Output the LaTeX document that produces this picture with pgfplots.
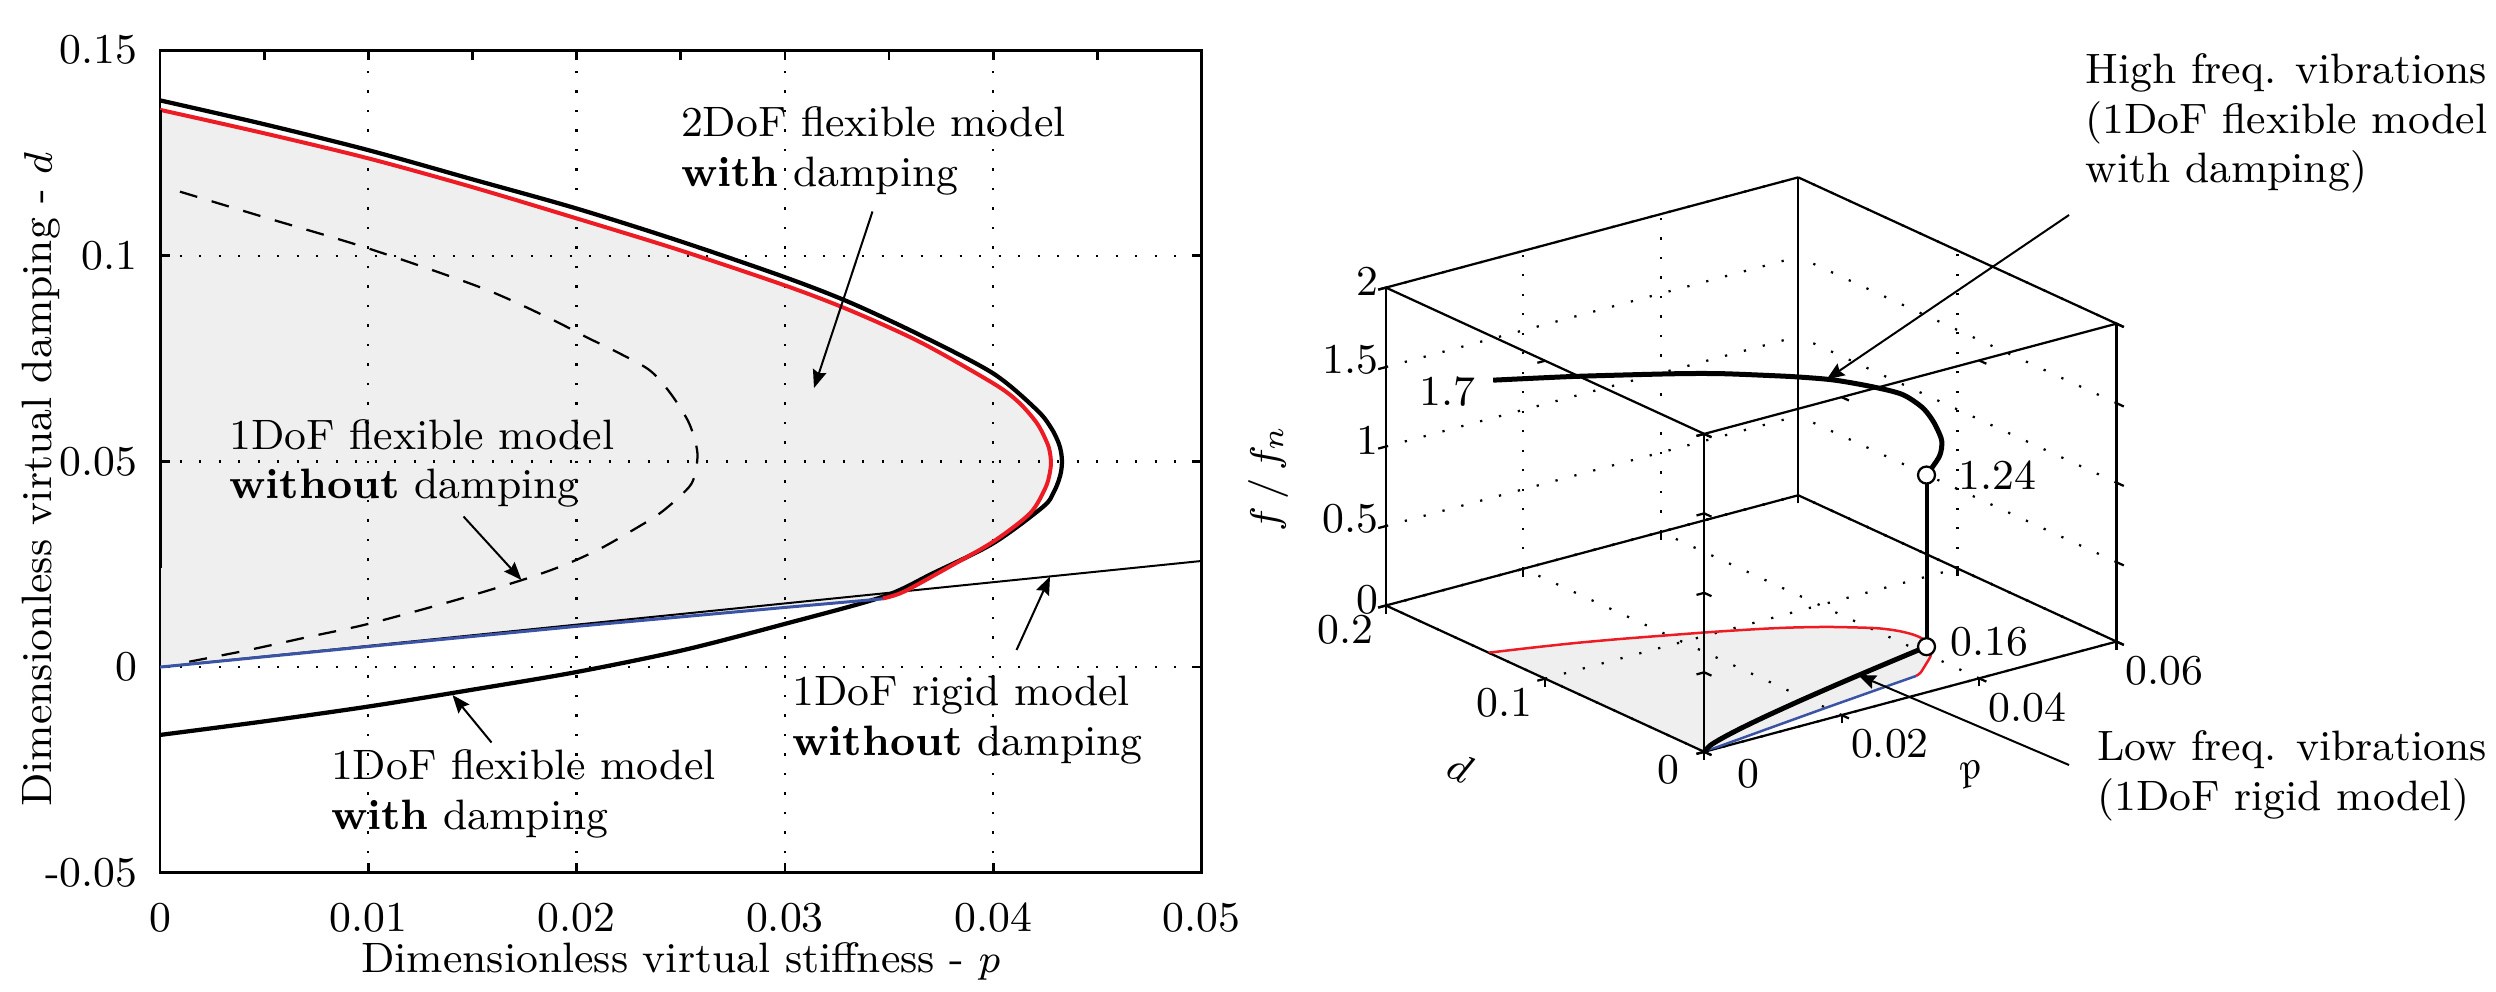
\documentclass[border=0pt]{standalone}
\usepackage{pgfplots}
\pgfplotsset{compat=1.18}
\usepackage{pgfplotstable}
\usetikzlibrary{arrows.meta}

\definecolor{redline}{RGB}{237,28,36}
\definecolor{blueline}{RGB}{58,83,164}
\newcommand\fs{\fontsize{8.5}{9.9}\selectfont}

% red: 2DoF flexible model with damping (stability boundary)
\pgfplotstableread{
p d f
0 0.1355 0
0.005 0.1298 0
0.01 0.1237 0
0.015 0.1167 0
0.02 0.1091 0
0.025 0.1013 0
0.03 0.0928 0
0.0331 0.0868 0
0.0365 0.0790 0
0.04 0.0690 0
0.0412 0.0645 0
0.0421 0.0593 0
0.04259 0.0545 0
0.04273 0.0520 0
0.04277 0.0495 0
0.04271 0.0470 0
0.0425 0.0435 0
0.04177 0.0374 0
0.0400 0.0305 0
0.0379 0.0244 0
0.0357 0.0183 0
0.0347 0.0167 0
}\redtab

% blue: lower limit (rigid model)
\pgfplotstableread{
p d f
0 0 0
0.01 0.0050 0
0.02 0.0099 0
0.03 0.0145 0
0.0347 0.0166 0
}\bluetab

% stable region
\pgfplotstableread{
p d f
0 0 0
0 0.1355 0
0.005 0.1298 0
0.01 0.1237 0
0.015 0.1167 0
0.02 0.1091 0
0.025 0.1013 0
0.03 0.0928 0
0.0331 0.0868 0
0.0365 0.0790 0
0.04 0.0690 0
0.0412 0.0645 0
0.0421 0.0593 0
0.04259 0.0545 0
0.04273 0.0520 0
0.04277 0.0495 0
0.04271 0.0470 0
0.0425 0.0435 0
0.04177 0.0374 0
0.0400 0.0305 0
0.0379 0.0244 0
0.0357 0.0183 0
0.0347 0.0167 0
0.03 0.0145 0
0.02 0.0099 0
0.01 0.0050 0
}\shadetab

% 1DoF flexible model with damping
\pgfplotstableread{
p d
0 0.1378
0.005 0.1320
0.01 0.1257
0.015 0.1186
0.02 0.1115
0.025 0.1035
0.03 0.0948
0.0331 0.0887
0.0365 0.0807
0.04 0.0714
0.0421 0.0625
0.0428 0.0580
0.04314 0.0545
0.04326 0.0522
0.0433 0.0499
0.04326 0.0476
0.04314 0.0453
0.0429 0.0425
0.0424 0.0390
0.040 0.0301
0.0371 0.0228
0.0347 0.0171
0.030 0.0105
0.0251 0.0041
0.0200 -0.0012
0.015 -0.0055
0.01 -0.0096
0.005 -0.0132
0 -0.0165
}\flexdamp

% 1DoF flexible model without damping
\pgfplotstableread{
p d
0.00096 0.1156
0.005 0.1094
0.01 0.1018
0.0155 0.0921
0.0187 0.0848
0.0206 0.0799
0.0219 0.0767
0.0235 0.0722
0.0245 0.0666
0.0254 0.0593
0.0258 0.0520
0.0256 0.0455
0.0251 0.0422
0.0240 0.0374
0.0227 0.0333
0.0211 0.0287
0.0194 0.0248
0.0174 0.0212
0.0140 0.0160
0.0100 0.0105
0.0070 0.0072
0.0043 0.0042
0.0014 0.0013
}\flexnodamp

% frequency along the boundary
\pgfplotstableread{
p d f
0 0 0
0.001 0.00048 0.0266
0.003 0.00144 0.046
0.006 0.00288 0.065
0.010 0.0048 0.084
0.015 0.0072 0.103
0.020 0.0096 0.119
0.025 0.0120 0.133
0.030 0.0144 0.1455
0.0364 0.0175 0.160
}\lowfreq

\pgfplotstableread{
p d f
0.0364 0.0175 1.24
0.0412 0.0301 1.245
0.0436 0.0390 1.27
0.0442 0.0447 1.32
0.0445 0.0499 1.36
0.0442 0.0544 1.41
0.0433 0.0625 1.46
0.0412 0.0714 1.49
0.0377 0.0810 1.53
0.0343 0.0895 1.55
0.0312 0.0950 1.57
0.0262 0.1035 1.60
0.0212 0.1115 1.62
0.0112 0.1257 1.655
0.0062 0.1320 1.672
0.0012 0.1378 1.69
}\highfreq

\begin{document}
\begin{tikzpicture}[font=\fs, arr/.style={line width=0.4pt, -{Stealth[length=3.6pt,width=2.8pt,inset=0.5pt]}}]
\path[use as bounding box] (0,0) rectangle (499.2pt,198.2pt);

\begin{axis}[
  at={(32pt,23.66pt)}, anchor=south west, scale only axis,
  width=208.3pt, height=164.5pt,
  xmin=0, xmax=0.05, ymin=-0.05, ymax=0.15,
  scaled ticks=false,
  xtick={0,0.01,0.02,0.03,0.04,0.05},
  xticklabels={0,0.01,0.02,0.03,0.04,0.05},
  ytick={-0.05,0,0.05,0.1,0.15},
  yticklabels={-0.05,0,0.05,0.1,0.15},
  grid=major,
  grid style={black, line width=0.45pt, dash pattern=on 0.45pt off 3.45pt},
  axis line style={line width=0.55pt},
  tick style={black, line width=0.55pt}, major tick length=2pt,
  tick label style={font=\fs}, label style={font=\fs},
  xticklabel style={yshift=-2.5pt}, yticklabel style={xshift=-1pt},
  xlabel={Dimensionless virtual stiffness - $p$},
  xlabel style={at={(axis description cs:0.5,0)}, anchor=center, yshift=-17.8pt},
  ylabel={Dimensionless virtual damping - $d$},
  ylabel style={at={(axis description cs:0,0.478)}, anchor=center, rotate=0, yshift=23.7pt},
]
\addplot[draw=none, fill=black, fill opacity=0.063] table[x=p, y=d] {\shadetab} -- cycle;
\addplot[black, line width=0.4pt] coordinates {(0,0) (0.05,0.0258)};
\addplot[black, line width=0.45pt, dash pattern=on 3.6pt off 3pt, smooth] table {\flexnodamp};
\addplot[black, line width=0.85pt, smooth] table {\flexdamp};
\addplot[redline, line width=0.8pt, smooth] table[x=p, y=d] {\redtab};
\addplot[blueline, line width=0.6pt] table[x=p, y=d] {\bluetab};
\addplot[black, line width=0.8pt] coordinates {(0,0.024) (0,0.1355)};
\end{axis}

% minor ticks along the top edge only
\begin{axis}[
  at={(32pt,23.66pt)}, anchor=south west, scale only axis,
  width=208.3pt, height=164.5pt,
  xmin=0, xmax=0.05, ymin=-0.05, ymax=0.15,
  scaled ticks=false,
  axis x line*=top, axis y line=none,
  xtick={0.005,0.015,0.025,0.035,0.045}, xticklabels={},
  tick align=inside, major tick length=2pt,
  tick style={black, line width=0.55pt}, axis line style={draw=none},
]
\end{axis}

\begin{axis}[
  at={(340.84pt,47.84pt)}, anchor=origin,
  x={(1374.4pt,367.4pt)}, y={(-318.3pt,146.3pt)}, z={(0pt,31.79pt)},
  xmin=0, xmax=0.06, ymin=0, ymax=0.2, zmin=0, zmax=2,
  scaled ticks=false,
  3d box=complete,
  xtick={0,0.02,0.04,0.06}, xticklabels={0,0.02,0.04,0.06},
  ytick={0,0.1,0.2}, yticklabels={0,0.1,0.2},
  ztick={0,0.5,1,1.5,2}, zticklabels={0,0.5,1,1.5,2},
  xtick pos=left, ytick pos=left, ztick pos=left,
  grid=major,
  grid style={black, line width=0.45pt, dash pattern=on 0.45pt off 3.45pt},
  axis line style={line width=0.45pt},
  tick style={black, line width=0.45pt}, major tick length=1.6pt,
  tick align=outside,
  tick label style={font=\fs},
  xticklabel style={xshift=3pt, yshift=3pt},
  yticklabel style={xshift=-0.5pt, yshift=3.5pt},
  zticklabel style={xshift=3.5pt},
]
\addplot3[draw=none, fill=black, fill opacity=0.063] table[x=p, y=d, z=f] {\shadetab} -- cycle;
\addplot3[redline, line width=0.5pt, smooth] table[x=p, y=d, z=f] {\redtab};
\addplot3[blueline, line width=0.5pt] table[x=p, y=d, z=f] {\bluetab};
\addplot3[black, line width=1pt, smooth] table[x=p, y=d, z=f] {\lowfreq};
\addplot3[black, line width=0.8pt] coordinates {(0.0364,0.0175,0.16) (0.0364,0.0175,1.24)};
\addplot3[black, line width=1pt, smooth] table[x=p, y=d, z=f] {\highfreq};
\addplot3[only marks, mark=*, mark size=1.7pt, mark options={fill=white, draw=black, line width=0.45pt}]
  coordinates {(0.0364,0.0175,0.16) (0.0364,0.0175,1.24)};
\end{axis}

% labels of the 3D box
\node[rotate=90] at (253.6pt,102.6pt) {$f\,/\,f_n$};
\node[rotate=-25] at (292.1pt,44.6pt) {$d$};
\node[rotate=15] at (394.4pt,43.3pt) {$p$};
\node[anchor=east, inner sep=0] at (295.3pt,119.8pt) {1.7};
\node[anchor=west, inner sep=0] at (391.5pt,103.1pt) {1.24};
\node[anchor=west, inner sep=0] at (389.9pt,69.9pt) {0.16};

% annotations
\node[anchor=west, align=left, inner sep=0] at (136pt,168pt) {2DoF flexible model\\\textbf{with} damping};
\draw[arr] (174.5pt,155.9pt) -- (162.8pt,120.6pt);
\node[anchor=west, align=left, inner sep=0] at (45.7pt,105.5pt) {1DoF flexible model\\\textbf{without} damping};
\draw[arr] (92.7pt,94.9pt) -- (104.3pt,82.2pt);
\node[anchor=west, align=left, inner sep=0] at (66pt,39.4pt) {1DoF flexible model\\\textbf{with} damping};
\draw[arr] (98.3pt,49.7pt) -- (90.5pt,59.2pt);
\node[anchor=west, align=left, inner sep=0] at (158.3pt,54.2pt) {1DoF rigid model\\\textbf{without} damping};
\draw[arr] (203.3pt,68.2pt) -- (210pt,82.9pt);
\node[anchor=west, align=left, inner sep=0] at (416.9pt,173.5pt) {High freq. vibrations\\(1DoF flexible model\\with damping)};
\draw[arr] (413.8pt,155.2pt) -- (365.3pt,122.3pt);
\node[anchor=west, align=left, inner sep=0] at (419.3pt,43pt) {Low freq. vibrations\\(1DoF rigid model)};
\draw[arr] (413.8pt,45.2pt) -- (371.6pt,63.2pt);
\end{tikzpicture}
\end{document}
